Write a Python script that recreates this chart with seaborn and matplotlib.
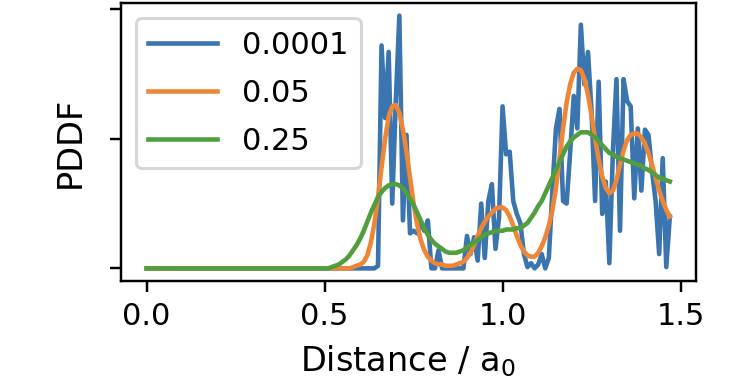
import numpy as np
import pandas as pd
import matplotlib
matplotlib.use("Agg")
import matplotlib.pyplot as plt
import seaborn as sns

# Distance grid (a0)
distance = np.round(np.arange(0, 148) * 0.01, 2)

# sigma = 0.0001 (noisy)
pddf_0001 = [0.0] * 65 + [
    0.02, 1.72, 1.16, 1.67, 0.50, 1.29, 1.95, 0.37, 1.03, 0.27,   # 0.65-0.74
    0.29, 0.27, 0.35, 0.29, 0.37, 0.00, 0.00, 0.14, 0.00, 0.00,   # 0.75-0.84
    0.00, 0.00, 0.00, 0.00, 0.00, 0.25, 0.11, 0.24, 0.06, 0.50,   # 0.85-0.94
    0.08, 0.52, 0.65, 0.15, 0.39, 1.25, 0.88, 0.90, 0.52, 0.42,   # 0.95-1.04
    0.35, 0.11, 0.01, 0.04, 0.00, 0.03, 0.11, 0.00, 0.08, 0.60,   # 1.05-1.14
    1.08, 1.23, 0.52, 0.50, 0.90, 1.33, 1.08, 1.88, 1.42, 1.67,   # 1.15-1.24
    1.21, 0.52, 1.44, 0.42, 0.67, 0.04, 0.90, 1.46, 0.29, 1.46,   # 1.25-1.34
    1.29, 1.25, 0.54, 1.08, 0.60, 1.07, 1.03, 0.75, 0.52, 0.11,   # 1.35-1.44
    0.85, 0.01, 0.40,                                             # 1.45-1.47
]

# sigma = 0.05
pddf_005 = [0.0] * 58 + [
    0.01, 0.02, 0.03, 0.05, 0.10, 0.20, 0.35, 0.55, 0.78, 1.00,   # 0.58-0.67
    1.17, 1.25, 1.26, 1.20, 1.07, 0.90, 0.70, 0.50, 0.34, 0.22,   # 0.68-0.77
    0.14, 0.09, 0.06, 0.04, 0.03, 0.03, 0.02, 0.02, 0.02, 0.03,   # 0.78-0.87
    0.04, 0.05, 0.08, 0.12, 0.18, 0.25, 0.31, 0.36, 0.40, 0.43,   # 0.88-0.97
    0.46, 0.47, 0.47, 0.45, 0.40, 0.33, 0.25, 0.18, 0.13, 0.10,   # 0.98-1.07
    0.09, 0.09, 0.12, 0.17, 0.24, 0.33, 0.45, 0.62, 0.85, 1.08,   # 1.08-1.17
    1.28, 1.42, 1.51, 1.54, 1.53, 1.46, 1.34, 1.18, 1.00, 0.84,   # 1.18-1.27
    0.71, 0.62, 0.58, 0.60, 0.68, 0.80, 0.91, 0.99, 1.03, 1.04,   # 1.28-1.37
    1.04, 1.01, 0.96, 0.89, 0.80, 0.70, 0.60, 0.52, 0.45, 0.40,   # 1.38-1.47
]

# sigma = 0.25
pddf_025 = [0.0] * 52 + [
    0.01, 0.02, 0.03, 0.05, 0.07, 0.10, 0.14, 0.18,               # 0.52-0.59
    0.23, 0.29, 0.36, 0.43, 0.49, 0.55, 0.59, 0.62, 0.64, 0.65,   # 0.60-0.69
    0.65, 0.64, 0.62, 0.58, 0.54, 0.49, 0.43, 0.37, 0.31, 0.26,   # 0.70-0.79
    0.22, 0.19, 0.17, 0.15, 0.13, 0.12, 0.12, 0.12, 0.13, 0.14,   # 0.80-0.89
    0.16, 0.18, 0.20, 0.22, 0.24, 0.26, 0.27, 0.28, 0.29, 0.29,   # 0.90-0.99
    0.29, 0.30, 0.30, 0.30, 0.31, 0.31, 0.33, 0.35, 0.39, 0.43,   # 1.00-1.09
    0.48, 0.52, 0.58, 0.64, 0.70, 0.76, 0.82, 0.88, 0.94, 0.98,   # 1.10-1.19
    1.01, 1.03, 1.05, 1.05, 1.05, 1.03, 1.01, 0.98, 0.95, 0.92,   # 1.20-1.29
    0.89, 0.88, 0.86, 0.85, 0.84, 0.83, 0.82, 0.81, 0.80, 0.79,   # 1.30-1.39
    0.77, 0.76, 0.74, 0.72, 0.70, 0.69, 0.68, 0.67,               # 1.40-1.47
]

labels = ["0.0001", "0.05", "0.25"]
colors = ["#3b75af", "#ef8636", "#519e3e"]

df = pd.DataFrame({
    "Distance": np.concatenate([distance] * 3),
    "PDDF": np.concatenate([pddf_0001, pddf_005, pddf_025]),
    "sigma": np.repeat(labels, len(distance)),
})

fig = plt.figure(figsize=(733 / 220, 386 / 220), dpi=220)
ax = fig.add_axes([120.5 / 733, 1 - 281 / 386, (696 - 120.5) / 733, (281 - 3) / 386])

sns.lineplot(data=df, x="Distance", y="PDDF", hue="sigma", hue_order=labels,
             palette=colors, linewidth=1.5, ax=ax, legend=True)

ax.set_xticks([0.0, 0.5, 1.0, 1.5])
ax.set_yticks([0, 1, 2])
ax.set_yticklabels([])
ax.tick_params(labelsize=10)
ax.set_xlabel("Distance / a$_0$", fontsize=11)
ax.set_ylabel("PDDF", fontsize=11)
leg = ax.legend(title=None, loc="upper left", fontsize=10,
                handlelength=2.27, labelspacing=0.63)

fig.savefig("out.png", dpi=220)
